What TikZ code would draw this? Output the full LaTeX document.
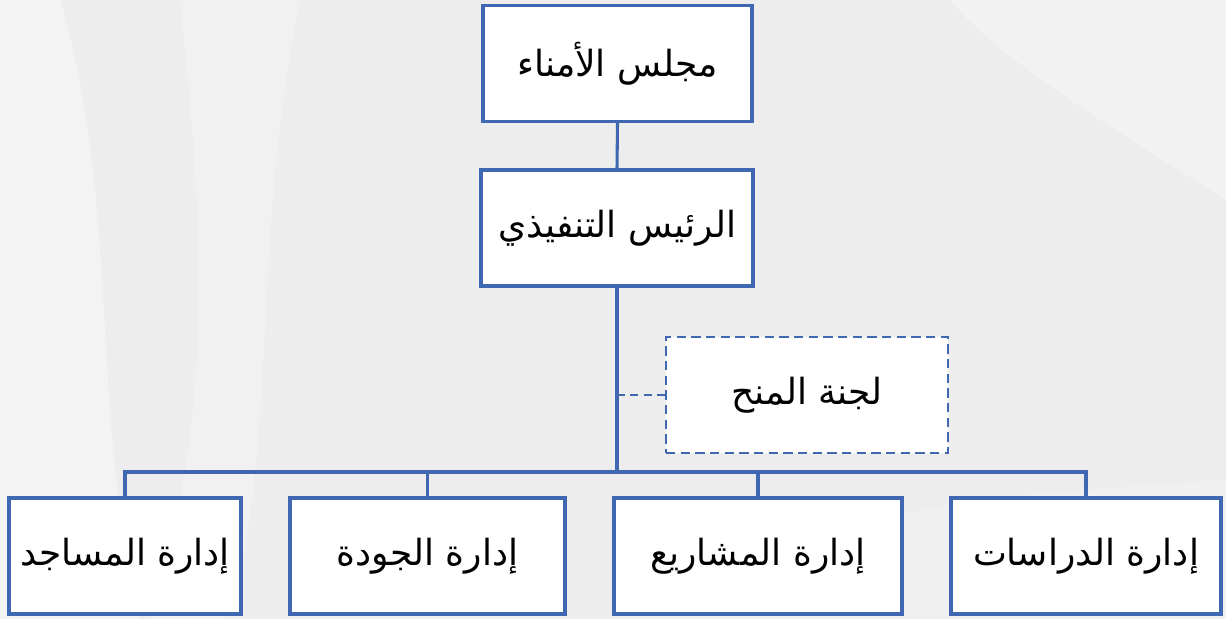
\documentclass[tikz,border=0pt]{standalone}
\usepackage{fontspec}
\newfontfamily\arabicfont[Script=Arabic]{DejaVu Sans}
\TeXXeTstate=1
\definecolor{boxblue}{HTML}{4068B2}
\definecolor{bggray}{HTML}{EDEDED}
\begin{document}
\begin{tikzpicture}[x=0.75pt,y=-0.75pt,
  box/.style={draw=boxblue,line width=2.3pt,fill=white,inner sep=0pt,
    minimum height=116*0.75pt,font=\arabicfont\fontsize{27}{31}\selectfont},
  link/.style={draw=boxblue,line width=2.3pt},
  dlink/.style={draw=boxblue,line width=1.6pt,dash pattern=on 6pt off 4pt}]
\useasboundingbox (0,0) rectangle (1226,619);
\fill[bggray] (0,0) rectangle (1226,619);
\fill[white,opacity=0.35] (0,0) -- (60,0) .. controls (120,200) and (90,420) .. (140,619) -- (0,619) -- cycle;
\fill[white,opacity=0.25] (180,0) -- (300,0) .. controls (250,250) and (280,420) .. (230,619) -- (150,619) .. controls (220,400) and (200,200) .. cycle;
\fill[white,opacity=0.3] (950,0) -- (1226,0) -- (1226,200) .. controls (1100,120) and (1000,60) .. cycle;
\fill[white,opacity=0.2] (700,619) .. controls (800,520) and (900,500) .. (1226,480) -- (1226,619) -- cycle;

\node[box,minimum width=269*0.75pt] (board) at (617.5,63.5) {\beginR مجلس الأمناء\endR};
\node[box,minimum width=272*0.75pt] (ceo) at (617,228) {\beginR الرئيس التنفيذي\endR};
\node[box,dash pattern=on 7pt off 4pt,line width=1.9pt,minimum width=282*0.75pt] (grants) at (807,395) {\beginR لجنة المنح\endR};
\node[box,minimum width=232*0.75pt] (mosques) at (125,556) {\beginR إدارة المساجد\endR};
\node[box,minimum width=275*0.75pt] (quality) at (427.5,556) {\beginR إدارة الجودة\endR};
\node[box,minimum width=288*0.75pt] (projects) at (758,556) {\beginR إدارة المشاريع\endR};
\node[box,minimum width=270*0.75pt] (studies) at (1086,556) {\beginR إدارة الدراسات\endR};
\coordinate (bus) at (617,472);

\draw[link] (board.south) -- (ceo.north);
\draw[link] (ceo.south) -- (bus);
\draw[dlink] (ceo.south |- grants.west) -- (grants.west);
\draw[link] (mosques.north) -- (mosques.north |- bus) -- (studies.north |- bus) -- (studies.north);
\draw[link] (quality.north) -- (quality.north |- bus);
\draw[link] (projects.north) -- (projects.north |- bus);
\end{tikzpicture}
\end{document}
